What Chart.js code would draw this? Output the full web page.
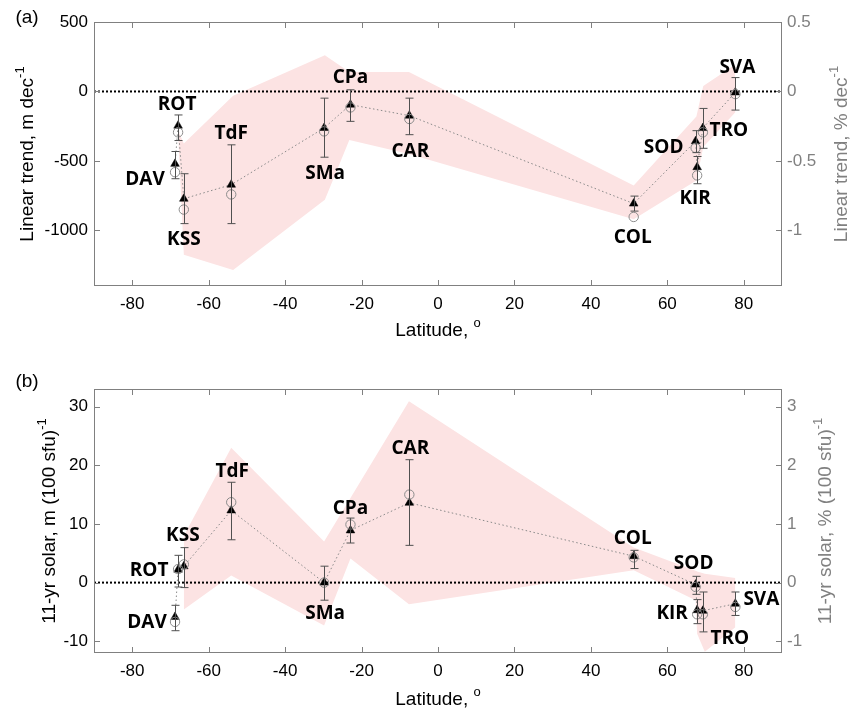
<!DOCTYPE html>
<html>
<head>
<meta charset="utf-8">
<script src="https://cdn.jsdelivr.net/npm/chart.js@4.4.1/dist/chart.umd.min.js"></script>
<style>
  body { margin: 0; background: #fff; }
  canvas { display: block; }
</style>
</head>
<body>
<canvas id="panelA" width="851" height="355"></canvas>
<canvas id="panelB" width="851" height="355"></canvas>
<script>
// stations, sorted by latitude
const stations = ['DAV', 'ROT', 'KSS', 'TdF', 'SMa', 'CPa', 'CAR', 'COL', 'SOD', 'KIR', 'TRO', 'SVA'];
const lat = [-68.8, -68.0, -66.5, -54.1, -29.8, -22.9, -7.5, 51.2, 67.4, 67.8, 69.3, 77.8];
const xTicks = [-80, -60, -40, -20, 0, 20, 40, 60, 80];

// (a) linear trend, m dec-1
const trendTri = [-521, -246, -772, -671, -263, -95, -174, -807, -358, -545, -263, -7];
const trendCirc = [-581, -294, -850, -741, -287, -115, -198, -903, -406, -604, -294, -19];
const trendErrLo = [-628, -353, -951, -951, -473, -215, -311, -861, -440, -664, -409, -134];
const trendErrHi = [-432, -169, -592, -384, -48, 12, -48, -753, -282, -468, -122, 100];
const bandLatA = [-68.0, -66.5, -53.6, -29.6, -23.2, -7.6, 51.2, 67.6, 69.4, 77.8];
const bandHiA = [-280, -375, -30, 260, 140, 140, -676, -180, 40, 195];
const bandLoA = [-300, -1175, -1285, -780, -350, -450, -920, -640, -400, -150];
const trendTicks = [-1000, -500, 0, 500];
const trendPctTicks = [-1, -0.5, 0, 0.5];

// (b) 11-yr solar, m (100 sfu)-1
const solarTri = [-5.86, 2.2, 2.78, 12.3, 0, 8.9, 13.6, 4.5, -0.34, -4.7, -4.8, -3.6];
const solarCirc = [-6.7, 2.3, 3.1, 13.7, 0, 9.9, 15.0, 4.3, -0.74, -5.4, -5.4, -4.15];
const solarErrLo = [-8.2, -0.75, -0.85, 7.3, -3.0, 6.75, 6.35, 2.4, -2.0, -7.0, -8.4, -5.6];
const solarErrHi = [-3.87, 4.65, 5.96, 17.1, 2.8, 11.0, 20.95, 5.5, 1.07, -2.9, -1.6, -1.6];
const bandLatB = [-66.5, -54.1, -29.8, -22.9, -7.6, 51.2, 67.4, 67.8, 69.8, 77.8];
const bandHiB = [8.0, 23.0, 7.0, 14.4, 30.9, 6.0, 2.0, 1.9, 1.5, 0.8];
const bandLoB = [-4.6, 1.2, -7.3, 4.1, -3.7, 2.1, -3.0, -8.7, -11.8, -7.6];
const solarTicks = [-10, 0, 10, 20, 30];
const solarPctTicks = [-1, 0, 1, 2, 3];

// label offsets from the triangle marker, px
const labelOffA = [[-30, 16], [-1, -21], [0, 41], [0, -51], [1, 46], [0, -27], [1, 36], [-1, 34], [-32, 6], [-2, 31], [26, 3], [2, -25]];
const labelOffB = [[-28, 6], [-29, 1], [-1, -31], [1, -39], [1, 31], [0, -22], [1, -54], [-1, -18], [-2, -21], [-25, 3], [27, 28], [26, -4]];

const AXIS_FONT = '"Liberation Sans", Arial, sans-serif';
const GREY = '#808080';

const pts = (xs, ys) => xs.map((x, i) => ({ x: x, y: ys[i] }));

// text with a raised suffix, centred on (x, y)
function supText(ctx, x, y, base, sup, color, rot) {
  ctx.save();
  ctx.translate(x, y);
  if (rot) ctx.rotate(rot);
  ctx.font = '19px ' + AXIS_FONT;
  const wb = ctx.measureText(base).width;
  ctx.font = '13px ' + AXIS_FONT;
  const ws = ctx.measureText(sup).width;
  const x0 = -(wb + ws) / 2;
  ctx.fillStyle = color;
  ctx.textAlign = 'left';
  ctx.textBaseline = 'middle';
  ctx.font = '19px ' + AXIS_FONT;
  ctx.fillText(base, x0, 0);
  ctx.font = '13px ' + AXIS_FONT;
  ctx.fillText(sup, x0 + wb, -8);
  ctx.restore();
}

function panelPlugin(p) {
  return {
    id: 'panel' + p.tag,
    afterDatasetsDraw(chart) {
      const { ctx, scales: { x, y } } = chart;
      ctx.save();
      // error bars
      ctx.strokeStyle = '#505050';
      ctx.lineWidth = 1;
      lat.forEach((la, i) => {
        const px = Math.round(x.getPixelForValue(la)) + 0.5;
        const y1 = y.getPixelForValue(p.lo[i]);
        const y2 = y.getPixelForValue(p.hi[i]);
        ctx.beginPath();
        ctx.moveTo(px, y1); ctx.lineTo(px, y2);
        ctx.moveTo(px - 4, y1); ctx.lineTo(px + 4, y1);
        ctx.moveTo(px - 4, y2); ctx.lineTo(px + 4, y2);
        ctx.stroke();
      });
      // station names
      ctx.font = 'bold 19px "Open Sans", sans-serif';
      ctx.fillStyle = '#000';
      ctx.textAlign = 'center';
      ctx.textBaseline = 'middle';
      stations.forEach((s, i) => {
        const px = x.getPixelForValue(lat[i]) + p.labelOff[i][0];
        const py = y.getPixelForValue(p.tri[i]) + p.labelOff[i][1];
        ctx.fillText(s, px, py);
      });
      ctx.restore();
    },
    afterDraw(chart) {
      const { ctx, chartArea: a, scales: { x, y, y2 } } = chart;
      ctx.save();
      ctx.strokeStyle = GREY;
      ctx.lineWidth = 1;
      ctx.strokeRect(a.left + 0.5, a.top + 0.5, a.right - a.left - 1, a.bottom - a.top - 1);
      ctx.beginPath();
      xTicks.forEach(v => {
        const px = Math.round(x.getPixelForValue(v)) + 0.5;
        ctx.moveTo(px, a.bottom); ctx.lineTo(px, a.bottom - 6);
        ctx.moveTo(px, a.top); ctx.lineTo(px, a.top + 6);
      });
      p.leftTicks.forEach(v => {
        const py = Math.round(y.getPixelForValue(v)) + 0.5;
        ctx.moveTo(a.left, py); ctx.lineTo(a.left + 6, py);
      });
      p.rightTicks.forEach(v => {
        const py = Math.round(y2.getPixelForValue(v)) + 0.5;
        ctx.moveTo(a.right, py); ctx.lineTo(a.right - 6, py);
      });
      ctx.stroke();

      // axis titles
      const midY = (a.top + a.bottom) / 2;
      supText(ctx, p.leftTitleX, midY, p.leftTitle, '-1', '#000', -Math.PI / 2);
      supText(ctx, p.rightTitleX, midY, p.rightTitle, '-1', GREY, -Math.PI / 2);
      supText(ctx, (a.left + a.right) / 2, p.xTitleY, 'Latitude, ', 'o', '#000', 0);

      // panel tag
      ctx.font = '19px ' + AXIS_FONT;
      ctx.fillStyle = '#000';
      ctx.textAlign = 'center';
      ctx.textBaseline = 'middle';
      ctx.fillText('(' + p.tag + ')', 27, p.tagY);
      ctx.restore();
    }
  };
}

function makePanel(id, p) {
  const ctx = document.getElementById(id).getContext('2d');
  const fixedTicks = list => scale => { scale.ticks = list.map(v => ({ value: v })); };
  new Chart(ctx, {
    type: 'scatter',
    data: {
      datasets: [
        {
          data: pts(p.bandLat, p.bandHi),
          showLine: true, borderColor: 'transparent', borderWidth: 0,
          pointRadius: 0, fill: false, order: 10
        },
        {
          data: pts(p.bandLat, p.bandLo),
          showLine: true, borderColor: 'transparent', borderWidth: 0,
          pointRadius: 0, fill: '-1', backgroundColor: '#fce3e3', order: 10
        },
        {
          data: [{ x: -90, y: 0 }, { x: 90, y: 0 }],
          showLine: true, borderColor: '#000', borderWidth: 2, borderDash: [2, 2],
          pointRadius: 0, order: 5
        },
        {
          data: pts(lat, p.tri),
          showLine: true, borderColor: '#8a8a8a', borderWidth: 1, borderDash: [1.5, 2.5],
          pointStyle: 'triangle', pointRadius: 5,
          pointBackgroundColor: '#000', pointBorderColor: '#000', pointBorderWidth: 0.5,
          order: 2
        },
        {
          data: pts(lat, p.circ),
          showLine: false, pointStyle: 'circle', pointRadius: 4.7,
          pointBackgroundColor: 'rgba(0,0,0,0)', pointBorderColor: '#8c8c8c', pointBorderWidth: 1,
          order: 1
        }
      ]
    },
    options: {
      responsive: false,
      devicePixelRatio: 1,
      animation: false,
      events: [],
      layout: { padding: { top: p.padTop, left: 0, right: 0, bottom: 0 } },
      plugins: { legend: { display: false }, tooltip: { enabled: false } },
      scales: {
        x: {
          type: 'linear', min: -90, max: 90,
          afterBuildTicks: fixedTicks(xTicks),
          afterFit: s => { s.height = p.xHeight; },
          grid: { display: false, drawTicks: false }, border: { display: false },
          ticks: { padding: 8, color: '#000', font: { family: AXIS_FONT, size: 17 }, maxRotation: 0, autoSkip: false }
        },
        y: {
          position: 'left', min: p.yMin, max: p.yMax,
          afterBuildTicks: fixedTicks(p.leftTicks),
          afterFit: s => { s.width = 94; },
          grid: { display: false, drawTicks: false }, border: { display: false },
          ticks: { padding: 6, color: '#000', font: { family: AXIS_FONT, size: 17 }, callback: v => String(v) }
        },
        y2: {
          position: 'right', min: p.yMin * p.pctRatio, max: p.yMax * p.pctRatio,
          afterBuildTicks: fixedTicks(p.rightTicks),
          afterFit: s => { s.width = 69; },
          grid: { display: false, drawTicks: false }, border: { display: false },
          ticks: { padding: 5, color: GREY, font: { family: AXIS_FONT, size: 17 }, callback: v => String(v) }
        }
      }
    },
    plugins: [panelPlugin(p)]
  });
}

makePanel('panelA', {
  tag: 'a', tagY: 18, padTop: 22, xHeight: 69, xTitleY: 331,
  yMin: -1400, yMax: 500, pctRatio: 0.001,
  tri: trendTri, circ: trendCirc, lo: trendErrLo, hi: trendErrHi,
  bandLat: bandLatA, bandHi: bandHiA, bandLo: bandLoA,
  leftTicks: trendTicks, rightTicks: trendPctTicks, labelOff: labelOffA,
  leftTitle: 'Linear trend, m dec', rightTitle: 'Linear trend, % dec',
  leftTitleX: 28, rightTitleX: 842
});

makePanel('panelB', {
  tag: 'b', tagY: 27, padTop: 34, xHeight: 57, xTitleY: 345,
  yMin: -12, yMax: 33, pctRatio: 0.1,
  tri: solarTri, circ: solarCirc, lo: solarErrLo, hi: solarErrHi,
  bandLat: bandLatB, bandHi: bandHiB, bandLo: bandLoB,
  leftTicks: solarTicks, rightTicks: solarPctTicks, labelOff: labelOffB,
  leftTitle: '11-yr solar, m (100 sfu)', rightTitle: '11-yr solar, % (100 sfu)',
  leftTitleX: 50, rightTitleX: 826
});
</script>
</body>
</html>
